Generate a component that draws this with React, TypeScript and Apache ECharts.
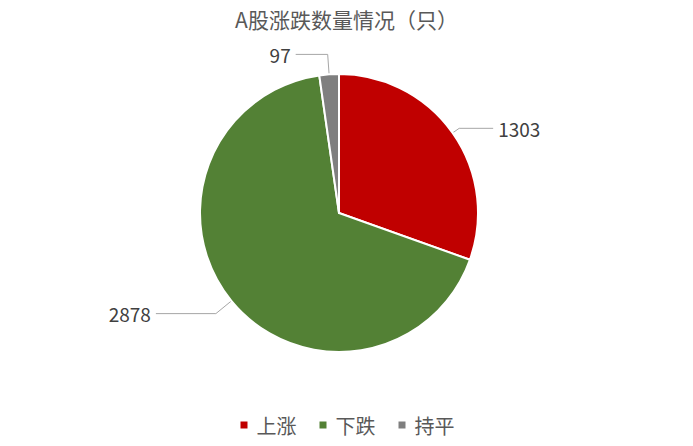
import * as echarts from 'echarts';
import type { ECharts, EChartsOption } from 'echarts';
import React, { useEffect, useRef } from 'react';

const categories = ['上涨', '下跌', '持平'];
const counts = [1303, 2878, 97];
const colors = ['#C00000', '#538135', '#7F7F7F'];
// label line lengths per slice [length, length2]
const lineLengths = [[8, 34], [20, 60], [20, 32]];

const App: React.FC = () => {
  const chartRef = useRef<HTMLDivElement>(null);
  const chartInstance = useRef<ECharts | null>(null);

  useEffect(() => {
    document.body.style.margin = '0';
    if (chartRef.current) {
      chartInstance.current = echarts.init(chartRef.current, undefined, { renderer: 'svg' });
      const font = '"Noto Sans CJK SC", "Microsoft YaHei", sans-serif';
      const option: EChartsOption = {
        animation: false,
        color: colors,
        title: {
          text: 'A股涨跌数量情况（只）',
          left: 'center',
          top: 3,
          textStyle: { color: '#595959', fontSize: 21, fontWeight: 'normal', fontFamily: font },
        },
        legend: {
          bottom: 6,
          left: 'center',
          icon: 'rect',
          itemWidth: 9,
          itemHeight: 9,
          itemGap: 21,
          data: categories,
          textStyle: { color: '#595959', fontSize: 20, fontFamily: font, padding: [0, 0, 0, 3] },
        },
        series: [{
          type: 'pie',
          center: [339, 213],
          radius: 139,
          startAngle: 90,
          clockwise: true,
          avoidLabelOverlap: false,
          itemStyle: { borderColor: '#fff', borderWidth: 2 },
          label: {
            show: true,
            formatter: '{c}',
            color: '#404040',
            fontSize: 19,
            fontFamily: font,
          },
          labelLine: {
            show: true,
            lineStyle: { color: '#A6A6A6', width: 1 },
          },
          data: categories.map((name, i) => ({
            name,
            value: counts[i],
            labelLine: { length: lineLengths[i][0], length2: lineLengths[i][1] },
          })),
        }],
      };
      chartInstance.current.setOption(option);
    }
    return () => {
      if (chartInstance.current) {
        chartInstance.current.dispose();
        chartInstance.current = null;
      }
    };
  }, []);

  return <div ref={chartRef} style={{ width: '693px', height: '446px' }} />;
};

export default App;
